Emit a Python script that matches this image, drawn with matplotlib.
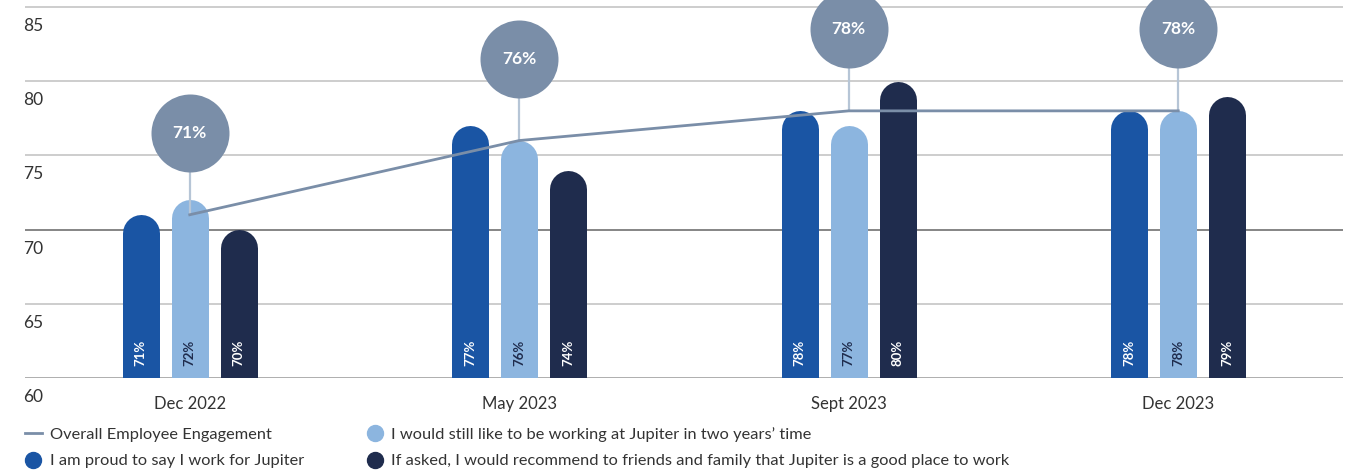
import matplotlib
matplotlib.use("Agg")
import matplotlib.pyplot as plt
import numpy as np
from matplotlib.lines import Line2D
from matplotlib.transforms import ScaledTranslation

plt.rcParams['font.family'] = ['Lato', 'DejaVu Sans']

periods = ['Dec 2022', 'May 2023', 'Sept 2023', 'Dec 2023']
overall = [71, 76, 78, 78]
proud = [71, 77, 78, 78]
two_years = [72, 76, 77, 78]
recommend = [70, 74, 80, 79]

series_labels = [
    'I am proud to say I work for Jupiter',
    'I would still like to be working at Jupiter in two years\u2019 time',
    'If asked, I would recommend to friends and family that Jupiter is a good place to work',
]
line_label = 'Overall Employee Engagement'

c_proud = '#1a55a4'
c_two = '#8cb5df'
c_rec = '#1f2c4d'
c_line = '#7a8ea8'
c_conn = '#b6c5d6'
c_text = '#333333'

W, H, DPI = 1355, 472, 100
fig = plt.figure(figsize=(W / DPI, H / DPI), dpi=DPI)
ax_l, ax_b, ax_w, ax_h = 25 / W, 94 / H, (1343 - 25) / W, 1 - 94 / H
ax = fig.add_axes([ax_l, ax_b, ax_w, ax_h])

y0, y1 = 60, 85.47
ax.set_ylim(y0, y1)
ax.set_xlim(-0.5, len(periods) - 0.5)
px_per_y = ax_h * H / (y1 - y0)

# grid lines
for v in [60, 65, 70, 75, 80, 85]:
    col = {70: '#7c7c7c', 60: '#a8a8a8'}.get(v, '#c9c9c9')
    ax.axhline(v, color=col, lw=1.3, zorder=0)

x = np.arange(len(periods))
bar_px = 37
off = 49 / (ax_w * W / len(periods))
r = (bar_px / 2) / px_per_y
bar_pt = bar_px * 72 / DPI

# bars as thick round-capped lines, bottom cap clipped by the axes
groups = [(proud, c_proud, 'white'), (two_years, c_two, c_rec), (recommend, c_rec, 'white')]
for i, (vals, col, tcol) in enumerate(groups):
    xs = x + (i - 1) * off
    vals = np.array(vals, dtype=float)
    ax.vlines(xs, y0 - r, vals - r, color=col, lw=bar_pt, capstyle='round', zorder=2)
    for xi, v in zip(xs, vals):
        ax.annotate(f'{v:.0f}%', (xi, y0), xytext=(0, 9), textcoords='offset points',
                    rotation=90, ha='center', va='bottom', color=tcol,
                    fontsize=9.5, fontweight='bold', zorder=4)

# overall line with bubbles
bub_off = 82 / px_per_y
overall = np.array(overall, dtype=float)
ax.vlines(x, overall, overall + bub_off, color=c_conn, lw=1.6, zorder=3)
ax.plot(x, overall, color=c_line, lw=2, zorder=4)
bub_d = 78
ax.scatter(x, overall + bub_off, s=(bub_d * 72 / DPI) ** 2, color=c_line,
           zorder=5, linewidths=0, clip_on=False)
for xi, v in zip(x, overall):
    ax.text(xi, v + bub_off, f'{v:.0f}%', ha='center', va='center', color='white',
            fontsize=12.5, fontweight='bold', zorder=6, clip_on=False)

for s in ax.spines.values():
    s.set_visible(False)

ax.set_xticks(x)
ax.set_xticklabels(periods, fontsize=12, color=c_text)
ax.set_yticks([60, 65, 70, 75, 80, 85])
ax.tick_params(axis='both', length=0)
ax.tick_params(axis='x', pad=13)
ax.tick_params(axis='y', pad=0, labelsize=12.5, labelcolor=c_text)
shift = ScaledTranslation(-2 / DPI, -11 / DPI, fig.dpi_scale_trans)
for lab in ax.get_yticklabels():
    lab.set_horizontalalignment('left')
    lab.set_verticalalignment('top')
    lab.set_transform(lab.get_transform() + shift)

handles = [
    Line2D([], [], color=c_line, lw=2),
    Line2D([], [], marker='o', ls='', color=c_proud, markersize=11.5),
    Line2D([], [], marker='o', ls='', color=c_two, markersize=11.5),
    Line2D([], [], marker='o', ls='', color=c_rec, markersize=11.5),
]
labels = [line_label, series_labels[0], series_labels[1], series_labels[2]]
leg = fig.legend(handles, labels, ncol=2, loc='upper left', bbox_to_anchor=(17 / W, 1 - 419 / H),
                 frameon=False, fontsize=11.8, handlelength=1.0, handletextpad=0.5,
                 columnspacing=3.8, labelspacing=0.72, borderpad=0)
for t in leg.get_texts():
    t.set_color(c_text)

fig.savefig('out.png', dpi=DPI)
